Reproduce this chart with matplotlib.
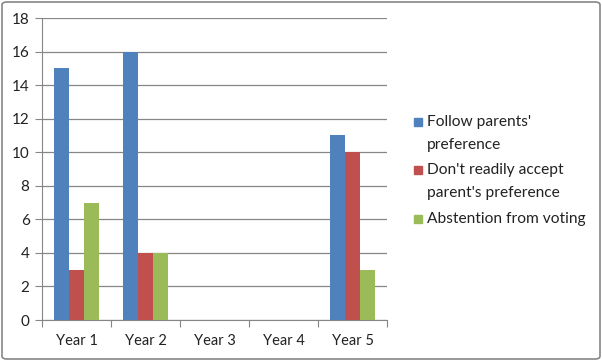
import matplotlib.pyplot as plt
from matplotlib.patches import Rectangle, FancyBboxPatch

years  = ['Year 1', 'Year 2', 'Year 3', 'Year 4', 'Year 5']
follow = [15, 16, 0, 0, 11]
dont   = [3, 4, 0, 0, 10]
abst   = [7, 4, 0, 0, 3]
labels = ["Follow parents'\npreference", "Don't readily accept\nparent's preference", "Abstention from voting"]
colors = ['#4F81BD', '#C0504D', '#9BBB59']

plt.rcParams['font.family'] = ['Lato', 'DejaVu Sans']

fig = plt.figure(figsize=(6.02, 3.61), dpi=100)
ax = fig.add_axes([42/602, 41/361, 345/602, 302/361])

w = 0.22
x = list(range(len(years)))
for k, vals in enumerate([follow, dont, abst]):
    ax.bar([i + (k - 1)*w for i in x], vals, width=w, color=colors[k], zorder=3)

ax.set_xlim(-0.5, len(years) - 0.5)
ax.set_ylim(0, 18)
ax.set_yticks(range(0, 19, 2))
ax.yaxis.grid(True, color='#868686', lw=0.9, zorder=0)
ax.set_xticks([i - 0.5 for i in range(len(years) + 1)])
ax.set_xticklabels([])
ax.set_xticks(x, minor=True)
ax.set_xticklabels(years, minor=True)
ax.tick_params(axis='x', which='minor', length=0, pad=10, labelsize=10.5, labelcolor='#222222')
ax.tick_params(axis='x', which='major', length=5, color='#868686', direction='out')
ax.tick_params(axis='y', length=5, color='#868686', labelsize=11, labelcolor='#222222', pad=4)
for s in ['top', 'right']:
    ax.spines[s].set_visible(False)
for s in ['left', 'bottom']:
    ax.spines[s].set_color('#868686')

# legend drawn by hand (Excel style, square next to first line)
ys = [122, 170, 219]
for k in range(3):
    fig.patches.append(Rectangle((414/602, 1 - (ys[k] + 4)/361), 8/602, 8/361,
                                 transform=fig.transFigure, color=colors[k]))
    fig.text(427/602, 1 - (ys[k] - 7)/361, labels[k], fontsize=11.2, va='top',
             ha='left', color='#222222', linespacing=1.8)

fig.patches.append(FancyBboxPatch((2/602, 2/361), 598/602, 357/361,
                                  boxstyle='round,pad=0,rounding_size=0.008',
                                  transform=fig.transFigure, fill=False,
                                  edgecolor='#868686', lw=1.2))

fig.savefig('out.png', dpi=100)
